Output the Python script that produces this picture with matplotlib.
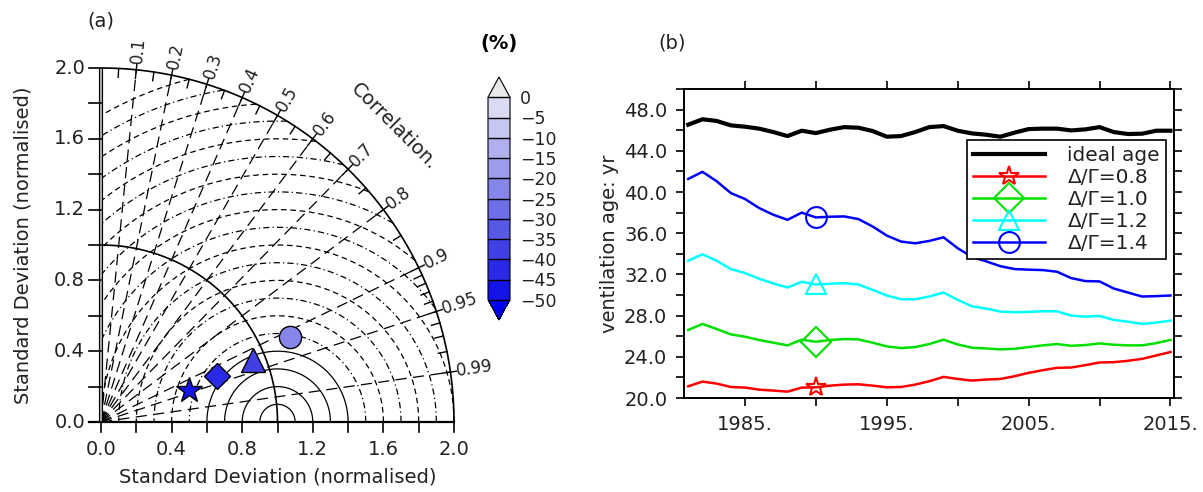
import numpy as np
import matplotlib
matplotlib.use('Agg')
import matplotlib.pyplot as plt
from matplotlib.colors import ListedColormap, BoundaryNorm
from matplotlib.cm import ScalarMappable

# ---- panel (a): Taylor diagram ----
case_labels = ['0.8', '1.0', '1.2', '1.4']
case_std = [0.531, 0.709, 0.928, 1.173]      # normalised standard deviation
case_corr = [0.941, 0.930, 0.926, 0.912]     # correlation with reference
case_bias = [-48, -43, -38, -22]             # bias (%), sets marker colour
case_markers = ['*', 'D', '^', 'o']
case_msize = [19, 13, 17, 16]

corr_major = [0.1, 0.2, 0.3, 0.4, 0.5, 0.6, 0.7, 0.8, 0.9, 0.95, 0.99]
corr_labels = ['0.1', '0.2', '0.3', '0.4', '0.5', '0.6', '0.7', '0.8', '0.9', '0.95', '0.99']
corr_minor = [0.05, 0.15, 0.25, 0.35, 0.45, 0.55, 0.65, 0.75, 0.85,
              0.91, 0.92, 0.93, 0.94, 0.96, 0.97, 0.98]
rms_levels = [round(0.1 * i, 1) for i in range(1, 21)]
std_ticks = [0.0, 0.4, 0.8, 1.2, 1.6, 2.0]

cb_levels = [-50, -45, -40, -35, -30, -25, -20, -15, -10, -5, 0]
cb_colors = ['#1414E6', '#2A2AE6', '#4040E4', '#5858E6', '#6E6EE8',
             '#8686EA', '#9C9CEC', '#B0B0EE', '#C6C6F2', '#DADAF2']
cb_under = '#0000EE'
cb_over = '#E9E9EC'

# ---- panel (b): ventilation age time series ----
years = list(range(1981, 2016))
ideal_age = [46.54, 47.06, 46.90, 46.47, 46.34, 46.15, 45.82, 45.43, 45.95, 45.72,
             46.05, 46.30, 46.24, 45.92, 45.37, 45.43, 45.82, 46.30, 46.40, 45.95,
             45.69, 45.56, 45.37, 45.76, 46.11, 46.15, 46.15, 45.98, 46.08, 46.30,
             45.82, 45.63, 45.66, 45.95, 45.95]
ratio_08 = [21.14, 21.59, 21.40, 21.07, 21.01, 20.81, 20.72, 20.62, 21.01, 21.04,
            21.20, 21.30, 21.33, 21.20, 21.04, 21.07, 21.30, 21.63, 22.05, 21.85,
            21.69, 21.79, 21.85, 22.11, 22.44, 22.70, 22.93, 22.96, 23.19, 23.45,
            23.48, 23.61, 23.80, 24.13, 24.46]
ratio_10 = [26.60, 27.19, 26.70, 26.18, 25.95, 25.63, 25.37, 25.11, 25.66, 25.46,
            25.63, 25.72, 25.69, 25.37, 25.01, 24.85, 24.94, 25.24, 25.66, 25.20,
            24.88, 24.81, 24.72, 24.78, 24.94, 25.11, 25.24, 25.07, 25.14, 25.30,
            25.17, 25.11, 25.11, 25.33, 25.63]
ratio_12 = [33.33, 33.95, 33.33, 32.52, 32.13, 31.58, 31.12, 30.73, 31.28, 31.02,
            31.09, 31.15, 31.02, 30.50, 29.95, 29.59, 29.59, 29.85, 30.24, 29.53,
            28.91, 28.68, 28.39, 28.33, 28.36, 28.42, 28.42, 28.00, 27.90, 27.97,
            27.58, 27.41, 27.19, 27.32, 27.51]
ratio_14 = [41.27, 41.96, 41.05, 39.90, 39.32, 38.44, 37.79, 37.30, 38.00, 37.53,
            37.60, 37.63, 37.37, 36.65, 35.77, 35.19, 35.02, 35.25, 35.60, 34.54,
            33.70, 33.27, 32.80, 32.52, 32.46, 32.42, 32.26, 31.64, 31.35, 31.32,
            30.63, 30.24, 29.85, 29.89, 29.95]
marker_year = 1990

TXT = '#222222'
plt.rcParams['font.family'] = 'DejaVu Sans'

W, H = 1203, 492
fig = plt.figure(figsize=(W / 100, H / 100), dpi=100)


def px_axes(x0, y0, x1, y1):
    """Axes from pixel box (top-left, bottom-right)."""
    return fig.add_axes([x0 / W, 1 - y1 / H, (x1 - x0) / W, (y1 - y0) / H])


# ================= (a) Taylor diagram =================
ax = px_axes(101, 68, 454, 422)
ax.set_xlim(0, 2)
ax.set_ylim(0, 2)
ax.axis('off')

# centred RMS difference circles around the reference point (1, 0)
t = np.linspace(0, np.pi, 3000)
for r in rms_levels:
    x = 1 + r * np.cos(t)
    y = r * np.sin(t)
    bad = (x < 0) | (x ** 2 + y ** 2 > 4.0)
    x = np.where(bad, np.nan, x)
    y = np.where(bad, np.nan, y)
    if r <= 0.45:
        ls = '-'
    elif round(r * 10) % 2 == 0:
        ls = (0, (4.5, 3))
    else:
        ls = (0, (5, 2.5, 1, 2.5))
    ax.plot(x, y, color='black', lw=0.9, ls=ls, clip_on=False)

# correlation rays
for c in corr_major:
    th = np.arccos(c)
    ax.plot([0, 2 * np.cos(th)], [0, 2 * np.sin(th)], color='black', lw=0.9,
            ls=(0, (9, 5)), clip_on=False)

# standard deviation arcs
ta = np.linspace(0, np.pi / 2, 400)
for r in [1.0, 2.0]:
    ax.plot(r * np.cos(ta), r * np.sin(ta), color='black', lw=1.2, clip_on=False)

# correlation ticks and labels
for c in corr_minor:
    th = np.arccos(c)
    ax.plot([1.95 * np.cos(th), 2 * np.cos(th)], [1.95 * np.sin(th), 2 * np.sin(th)],
            color='black', lw=1.0, clip_on=False)
for c, lab in zip(corr_major, corr_labels):
    th = np.arccos(c)
    ax.plot([1.95 * np.cos(th), 2.035 * np.cos(th)], [1.95 * np.sin(th), 2.035 * np.sin(th)],
            color='black', lw=1.0, clip_on=False)
    ax.text(2.035 * np.cos(th), 2.035 * np.sin(th), lab, rotation=np.degrees(th),
            rotation_mode='anchor', ha='left', va='center', fontsize=12, color=TXT)
ax.text(1.66, 1.67, 'Correlation.', rotation=-45, ha='center', va='center',
        fontsize=14, color=TXT)

# axes lines with outward ticks
ax.plot([-0.07, 2.0], [0, 0], color='black', lw=1.6, clip_on=False)
ax.plot([0, 0], [0, 2.0], color='black', lw=3.0, clip_on=False, solid_capstyle='butt')
ax.plot([0, 0], [0, 2.0], color='#C8C8C8', lw=1.2, clip_on=False, solid_capstyle='butt')
for v in np.arange(0, 2.01, 0.2):
    ax.plot([v, v], [0, -0.055], color='black', lw=1.2, clip_on=False)
    ax.plot([0, -0.07], [v, v], color='black', lw=1.2, clip_on=False)
for v in std_ticks:
    ax.text(v, -0.1, f'{v:.1f}', ha='center', va='top', fontsize=14, color=TXT)
    ax.text(-0.09, v, f'{v:.1f}', ha='right', va='center', fontsize=14, color=TXT)
ax.text(1.0, -0.255, 'Standard Deviation (normalised)', ha='center', va='top',
        fontsize=14, color=TXT)
ax.text(-0.44, 1.0, 'Standard Deviation (normalised)', ha='center', va='center',
        rotation=90, fontsize=14, color=TXT)
ax.text(0.0, 2.265, '(a)', ha='center', va='center', fontsize=14, color=TXT)

# model markers coloured by bias
cmap = ListedColormap(cb_colors)
cmap.set_under(cb_under)
cmap.set_over(cb_over)
norm = BoundaryNorm(cb_levels, cmap.N)
for s, c, b, m, ms in zip(case_std, case_corr, case_bias, case_markers, case_msize):
    th = np.arccos(c)
    ax.plot(s * np.cos(th), s * np.sin(th), marker=m, ms=ms, mfc=cmap(norm(b)),
            mec='black', mew=1.0, ls='none', clip_on=False, zorder=5)

# colour bar
cax = px_axes(488, 77, 510, 320)
sm = ScalarMappable(norm=norm, cmap=cmap)
cb = fig.colorbar(sm, cax=cax, extend='both', extendfrac=0.1, ticks=cb_levels,
                  drawedges=True, spacing='uniform')
cb.outline.set_linewidth(0.8)
cb.dividers.set_linewidth(1.0)
cb.ax.tick_params(length=0, pad=7, labelsize=12.5, labelcolor=TXT)
cb.ax.set_yticklabels([f'{v:d}'.replace('-', '\u2212') for v in cb_levels])
fig.text(499 / W, 1 - 44 / H, '(%)', ha='center', va='center', fontsize=14,
         fontweight='bold', color='black')

# ================= (b) ventilation age =================
axb = px_axes(684, 89, 1174, 398)
series = [
    (ratio_08, 'red', '*', 'Δ/Γ=0.8'),
    (ratio_10, '#00E000', 'D', 'Δ/Γ=1.0'),
    (ratio_12, 'cyan', '^', 'Δ/Γ=1.2'),
    (ratio_14, '#0000FF', 'o', 'Δ/Γ=1.4'),
]
mi = years.index(marker_year)
axb.plot(years, ideal_age, color='black', lw=3, label='ideal age')
for vals, col, mk, lab in series:
    axb.plot(years, vals, color=col, lw=1.8, marker=mk, markevery=[mi], ms=15,
             mfc='none', mec=col, mew=1.5, label=lab)
axb.set_xlim(1980.7, 2015.25)
axb.set_ylim(20, 50)
axb.set_xticks([1985, 1995, 2005, 2015])
axb.set_xticklabels(['1985.', '1995.', '2005.', '2015.'])
axb.set_xticks([1990, 2000, 2010], minor=True)
axb.set_yticks(np.arange(20, 49, 4))
axb.set_yticklabels([f'{v:.1f}' for v in np.arange(20, 49, 4)])
axb.set_yticks(np.arange(22, 51, 4), minor=True)
axb.tick_params(which='both', direction='out', length=6, width=1.2, top=True, right=True,
                labelsize=14, labelcolor=TXT, pad=6)
for sp in axb.spines.values():
    sp.set_linewidth(1.4)
axb.set_ylabel('ventilation age: yr', fontsize=14, color=TXT, labelpad=4)
axb.text(-0.025, 1.15, '(b)', transform=axb.transAxes, ha='center', va='center',
         fontsize=14, color=TXT)
leg = axb.legend(loc='upper right', bbox_to_anchor=(0.984, 0.836), fontsize=14.5,
                 handlelength=3.6, fancybox=False, edgecolor='black', framealpha=1,
                 borderpad=0.3, labelspacing=0.15, handletextpad=1.1, borderaxespad=0)
leg.get_frame().set_linewidth(1.2)
for txt in leg.get_texts():
    txt.set_color(TXT)

fig.savefig('out.png', dpi=100)
